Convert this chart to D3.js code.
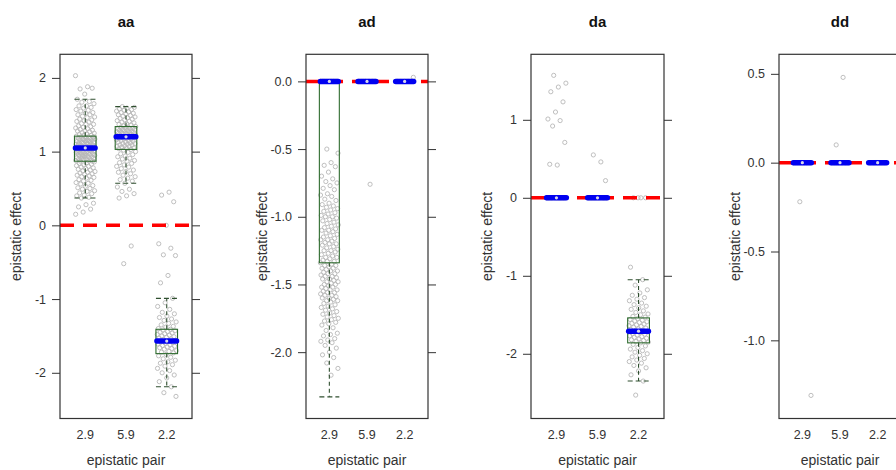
<!DOCTYPE html>
<html><head><meta charset="utf-8">
<script src="https://cdn.jsdelivr.net/npm/d3@7"></script>
<style>
body{margin:0;background:#fff}
svg{display:block}
text{font-family:"Liberation Sans",Arial,sans-serif}
</style>
</head><body>
<svg id="c" width="896" height="470"></svg>
<script>
// ---------- data ----------
const groups = ["2.9", "5.9", "2.2"];
const panelTitles = ["aa", "ad", "da", "dd"];

const ticksAA = [-2, -1, 0, 1, 2];
const ticksAD = [-2.0, -1.5, -1.0, -0.5, 0.0];
const ticksDA = [-2, -1, 0, 1];
const ticksDD = [-1.0, -0.5, 0.0, 0.5];

// box stats per group: [lower whisker, q1, median, q3, upper whisker]
const boxAA = [[0.37, 0.87, 1.05, 1.21, 1.71], [0.57, 1.03, 1.20, 1.34, 1.61], [-2.19, -1.74, -1.57, -1.41, -0.99]];
const boxAD = [[-2.33, -1.34, 0, 0, 0], [0, 0, 0, 0, 0], [0, 0, 0, 0, 0]];
const boxDA = [[0, 0, 0, 0, 0], [0, 0, 0, 0, 0], [-2.35, -1.86, -1.71, -1.54, -1.05]];
const boxDD = [[0, 0, 0, 0, 0], [0, 0, 0, 0, 0], [0, 0, 0, 0, 0]];

// epistatic effects
const aa29 = [2.03,1.88,1.85,1.86,1.78,
1.71,1.68,1.67,1.65,1.62,1.62,1.6,1.59,1.57,1.56,1.55,1.53,1.52,1.5,1.5,1.48,1.47,1.46,1.44,1.43,1.42,1.41,1.4,1.38,1.37,1.37,1.35,1.34,1.33,1.32,1.31,1.3,1.29,1.28,1.28,1.27,1.26,1.25,1.24,1.23,1.22,1.22,
1.21,1.2,1.2,1.19,1.19,1.18,1.18,1.17,1.17,1.16,1.16,1.15,1.15,1.14,1.14,1.13,1.13,1.12,1.12,1.11,1.11,1.1,1.1,1.09,1.09,1.08,1.08,1.08,1.07,1.07,1.07,1.06,1.06,1.06,1.05,1.05,1.05,1.2,1.15,1.1,1.13,1.17,
1.04,1.04,1.03,1.03,1.03,1.02,1.02,1.01,1.01,1.0,1.0,1.0,0.99,0.99,0.98,0.98,0.97,0.97,0.96,0.96,0.95,0.95,0.94,0.94,0.93,0.93,0.92,0.92,0.91,0.91,0.9,0.9,0.89,0.89,0.88,0.88,0.87,0.87,0.95,0.99,1.02,0.93,
0.86,0.85,0.84,0.83,0.82,0.81,0.8,0.79,0.78,0.77,0.76,0.75,0.74,0.73,0.72,0.71,0.7,0.69,0.68,0.67,0.66,0.65,0.64,0.62,0.61,0.6,0.58,0.57,0.56,0.54,0.53,0.51,0.5,0.49,0.47,0.46,0.44,0.43,0.41,0.4,0.38,0.37,
0.3,0.28,0.25,0.22,0.18,0.15];
const aa59 = [1.61,1.6,1.59,1.58,1.57,1.56,1.55,1.54,1.53,1.52,1.51,1.5,1.49,1.48,1.47,1.46,1.45,1.44,1.43,1.42,1.41,1.4,1.39,1.38,1.37,1.36,1.35,
1.34,1.33,1.33,1.32,1.32,1.31,1.31,1.3,1.3,1.29,1.29,1.28,1.28,1.27,1.27,1.26,1.26,1.25,1.25,1.24,1.24,1.23,1.23,1.22,1.22,1.21,1.21,
1.2,1.19,1.19,1.18,1.18,1.17,1.17,1.16,1.15,1.15,1.14,1.13,1.13,1.12,1.11,1.11,1.1,1.09,1.09,1.08,1.07,1.07,1.06,1.05,1.05,1.04,1.03,
1.02,1.0,0.99,0.97,0.96,0.94,0.93,0.91,0.9,0.88,0.87,0.85,0.84,0.82,0.8,0.79,0.77,0.75,0.73,0.72,0.7,0.68,0.66,0.64,0.62,0.6,0.57,
0.52,0.49,0.46,0.43,0.4,0.37,-0.28,-0.52];
const aa22 = [0.45,0.41,0.32,0.0,-0.25,-0.31,-0.40,-0.41,-0.68,-0.78,
-0.99,-1.05,-1.1,-1.14,-1.18,-1.2,-1.23,-1.25,-1.27,-1.29,-1.31,-1.33,-1.35,-1.37,-1.38,-1.4,
-1.41,-1.42,-1.43,-1.44,-1.45,-1.46,-1.47,-1.48,-1.49,-1.5,-1.51,-1.52,-1.53,-1.54,-1.55,-1.56,
-1.57,-1.58,-1.59,-1.6,-1.61,-1.62,-1.63,-1.64,-1.65,-1.66,-1.67,-1.68,-1.7,-1.71,-1.72,-1.73,
-1.75,-1.77,-1.79,-1.81,-1.83,-1.85,-1.87,-1.89,-1.91,-1.94,-1.97,-2.0,-2.03,-2.07,-2.12,-2.19,
-2.27,-2.32];

const ad29 = [0,0,0,0,0,0,0,0,0,0,0,0,0,0,0,0,0,0,0,0,
-0.5,-0.53,-0.6,-0.62,-0.63,-0.67,-0.7,-0.72,-0.74,-0.75,-0.77,-0.79,-0.8,-0.83,-0.84,-0.85,-0.87,-0.88,-0.9,-0.91,-0.92,-0.93,-0.94,-0.95,-0.96,-0.97,-0.98,-0.99,-1.0,-1.0,-1.01,-1.02,-1.03,-1.04,-1.05,-1.06,-1.07,-1.08,-1.09,-1.1,-1.1,-1.11,-1.12,-1.13,-1.14,-1.15,-1.16,-1.17,-1.17,-1.18,-1.19,-1.2,-1.2,-1.21,-1.22,-1.23,-1.24,-1.25,-1.25,-1.26,-1.27,-1.28,-1.29,-1.3,-1.3,-1.31,-1.32,-1.33,-1.33,-1.34,
-1.35,-1.36,-1.36,-1.37,-1.38,-1.38,-1.39,-1.4,-1.4,-1.41,-1.42,-1.42,-1.43,-1.44,-1.44,-1.45,-1.46,-1.46,-1.47,-1.48,-1.48,-1.49,-1.5,-1.5,-1.51,-1.52,-1.52,-1.53,-1.54,-1.54,-1.55,-1.56,-1.56,-1.57,-1.58,-1.58,-1.59,-1.6,-1.6,-1.61,-1.62,-1.62,-1.63,-1.64,-1.65,-1.66,-1.67,-1.68,-1.69,-1.7,-1.71,-1.72,-1.73,-1.74,-1.75,-1.76,-1.77,-1.78,-1.79,-1.8,-1.82,-1.84,-1.86,-1.87,-1.88,-1.9,-1.91,-1.92,-1.93,-1.95,-1.97,-2.0,-2.02,-2.04,-2.08,-2.12,-2.17];
const ad59 = [0,0,0,0,0,0,0,0,0,0,0,0,0,0,0,0,0,0,0,0,-0.76];
const ad22 = [0,0,0,0,0,0,0,0,0,0,0,0,0,0,0,0,0,0,0,0,0.03];

const da29 = [0,0,0,0,0,0,0,0,0,0,0,0,0,0,0,0,0,0,0,0,
1.57,1.47,1.42,1.36,1.23,1.10,1.01,0.99,0.92,0.71,0.42,0.43];
const da59 = [0,0,0,0,0,0,0,0,0,0,0,0,0,0,0,0,0,0,0,0,0.46,0.55,0.22];
const da22 = [0,0,0,0,-0.89,
-1.05,-1.12,-1.18,-1.22,-1.25,-1.28,-1.3,-1.32,-1.35,-1.37,-1.39,-1.41,-1.43,-1.45,-1.47,-1.49,-1.5,-1.52,-1.53,
-1.55,-1.56,-1.57,-1.58,-1.59,-1.6,-1.61,-1.62,-1.63,-1.64,-1.65,-1.66,-1.67,-1.68,-1.69,-1.7,-1.7,
-1.72,-1.73,-1.74,-1.75,-1.76,-1.77,-1.78,-1.79,-1.8,-1.81,-1.82,-1.83,-1.84,-1.85,-1.86,
-1.88,-1.9,-1.92,-1.94,-1.96,-1.98,-2.0,-2.02,-2.04,-2.06,-2.08,-2.1,-2.12,-2.15,-2.18,-2.22,-2.27,-2.35,
-2.53];

const dd29 = [0,0,0,0,0,0,0,0,0,0,0,0,0,0,0,0,0,0,0,0,-0.22,-1.31];
const dd59 = [0,0,0,0,0,0,0,0,0,0,0,0,0,0,0,0,0,0,0,0,0.48,0.10];
const dd22 = [0,0,0,0,0,0,0,0,0,0,0,0,0,0,0,0,0,0,0,0];

// ---------- layout ----------
const panels = [
  {title: panelTitles[0], data: [aa29, aa59, aa22], box: boxAA, ticks: ticksAA, dec: 0, left: 60,  width: 132, ydom: [-2.62, 2.32]},
  {title: panelTitles[1], data: [ad29, ad59, ad22], box: boxAD, ticks: ticksAD, dec: 1, left: 306, width: 122, ydom: [-2.49, 0.20]},
  {title: panelTitles[2], data: [da29, da59, da22], box: boxDA, ticks: ticksDA, dec: 0, left: 531, width: 133, ydom: [-2.83, 1.84]},
  {title: panelTitles[3], data: [dd29, dd59, dd22], box: boxDD, ticks: ticksDD, dec: 1, left: 779, width: 122, ydom: [-1.44, 0.61]}
];
const plotTop = 54.3, plotBottom = 418.5;
const halfBox = 0.265, jitAmp = 0.24;

const svg = d3.select("#c");

panels.forEach(p => {
  const g = svg.append("g");
  const x = d3.scaleLinear().domain([0.38, 3.62]).range([p.left, p.left + p.width]);
  const y = d3.scaleLinear().domain(p.ydom).range([plotBottom, plotTop]);
  const fmt = d => (d < 0 ? "-" : "") + Math.abs(d).toFixed(p.dec);

  const clipId = "clip-" + p.title;
  g.append("clipPath").attr("id", clipId).append("rect")
    .attr("x", p.left).attr("y", plotTop).attr("width", p.width).attr("height", plotBottom - plotTop);
  const inner = g.append("g").attr("clip-path", `url(#${clipId})`);

  // jittered points
  p.data.forEach((vals, gi) => {
    inner.append("g").selectAll("circle").data(vals).join("circle")
      .attr("cx", (d, i) => x(gi + 1 + (((i * 0.6180339887 + gi * 0.31) % 1) - 0.5) * 2 * jitAmp))
      .attr("cy", d => y(d))
      .attr("r", 2.1)
      .attr("fill", "none")
      .attr("stroke", "#b8b8b8")
      .attr("stroke-width", 0.9);
  });

  // boxes
  p.box.forEach((b, gi) => {
    const c = gi + 1;
    const [lo, q1, med, q3, hi] = b;
    const bx = inner.append("g");
    bx.append("line").attr("x1", x(c)).attr("x2", x(c)).attr("y1", y(q3)).attr("y2", y(hi))
      .attr("stroke", "#2f4f2f").attr("stroke-width", 1.1).attr("stroke-dasharray", "4,3");
    bx.append("line").attr("x1", x(c)).attr("x2", x(c)).attr("y1", y(q1)).attr("y2", y(lo))
      .attr("stroke", "#2f4f2f").attr("stroke-width", 1.1).attr("stroke-dasharray", "4,3");
    [lo, hi].forEach(v => {
      bx.append("line").attr("x1", x(c - halfBox)).attr("x2", x(c + halfBox)).attr("y1", y(v)).attr("y2", y(v))
        .attr("stroke", "#2f4f2f").attr("stroke-width", 1.1).attr("stroke-dasharray", "5,3");
    });
    bx.append("rect").attr("x", x(c - halfBox)).attr("y", y(q3))
      .attr("width", x(c + halfBox) - x(c - halfBox)).attr("height", Math.max(0, y(q1) - y(q3)))
      .attr("fill", "none").attr("stroke", "#2e6b2e").attr("stroke-width", 1.1);
  });

  // zero reference line
  inner.append("line").attr("x1", p.left).attr("x2", p.left + p.width).attr("y1", y(0)).attr("y2", y(0))
    .attr("stroke", "#ff0000").attr("stroke-width", 3.5).attr("stroke-dasharray", "14,9");

  // medians
  p.box.forEach((b, gi) => {
    const c = gi + 1;
    inner.append("line").attr("x1", x(c - halfBox) + 1).attr("x2", x(c + halfBox) - 1)
      .attr("y1", y(b[2])).attr("y2", y(b[2]))
      .attr("stroke", "#0000f0").attr("stroke-width", 5.5).attr("stroke-linecap", "round");
    inner.append("circle").attr("cx", x(c)).attr("cy", y(b[2])).attr("r", 1.6)
      .attr("fill", "#d8d8e8");
  });

  // frame
  g.append("rect").attr("x", p.left).attr("y", plotTop).attr("width", p.width).attr("height", plotBottom - plotTop)
    .attr("fill", "none").attr("stroke", "#333").attr("stroke-width", 1.2);

  // axes
  const ax = g.append("g").attr("transform", `translate(${p.left},0)`)
    .call(d3.axisLeft(y).tickValues(p.ticks).tickSize(8).tickPadding(6).tickFormat(fmt));
  ax.select(".domain").remove();
  ax.selectAll("line").attr("stroke", "#333");
  ax.selectAll("text").attr("font-size", 12.5).attr("fill", "#333").attr("font-family", "Liberation Sans, Arial, sans-serif");

  const axr = g.append("g").attr("transform", `translate(${p.left + p.width},0)`)
    .call(d3.axisRight(y).tickValues(p.ticks).tickSize(8).tickFormat(""));
  axr.select(".domain").remove();
  axr.selectAll("line").attr("stroke", "#333");

  // x category labels
  g.append("g").selectAll("text").data(groups).join("text")
    .attr("x", (d, i) => x(i + 1)).attr("y", 439)
    .attr("text-anchor", "middle").attr("font-size", 12.5).attr("fill", "#333")
    .text(d => d);

  // axis titles
  g.append("text").attr("x", p.left + p.width / 2).attr("y", 465)
    .attr("text-anchor", "middle").attr("font-size", 14).attr("fill", "#333").text("epistatic pair");
  g.append("text").attr("transform", `translate(${p.left - 39},${(plotTop + plotBottom) / 2}) rotate(-90)`)
    .attr("text-anchor", "middle").attr("font-size", 14).attr("fill", "#333").text("epistatic effect");

  // panel title
  g.append("text").attr("x", p.left + p.width / 2).attr("y", 27)
    .attr("text-anchor", "middle").attr("font-size", 15).attr("font-weight", "bold").attr("fill", "#111")
    .text(p.title);
});
</script>
</body></html>
